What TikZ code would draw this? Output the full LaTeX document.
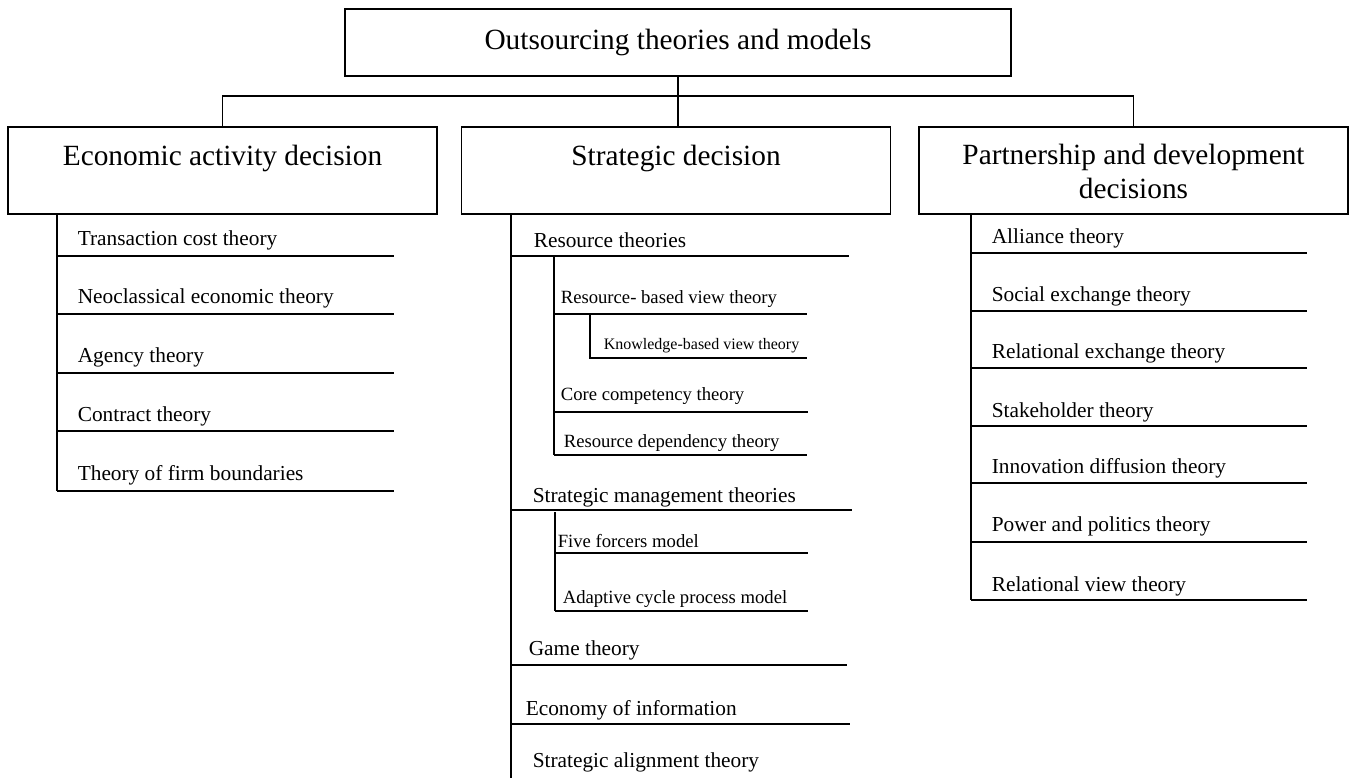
\documentclass[tikz,border=0pt]{standalone}
\usepackage{fontspec}
\setmainfont{Liberation Serif}

\tikzset{every picture/.style={line width=1.2pt}}
\tikzset{
  box/.style={draw, minimum width=321.75pt, minimum height=65.25pt, inner sep=0pt},
  head/.style={anchor=base, align=center, inner sep=0pt, font=\fontsize{22}{26}\selectfont},
  row/.style={anchor=base west, inner sep=0pt, font=\fontsize{16}{19}\selectfont},
  subrow/.style={anchor=base west, inner sep=0pt, font=\fontsize{14}{17}\selectfont},
  subsubrow/.style={anchor=base west, inner sep=0pt, font=\fontsize{12}{14}\selectfont},
}

\begin{document}
\begin{tikzpicture}[x=0.75pt,y=0.75pt,yscale=-1,xscale=1]
	\useasboundingbox (0,0) rectangle (1349,778);

	%Shape: Rectangle [top]
	\node[box, minimum width=499.5pt, minimum height=50.25pt, font=\fontsize{22}{26}\selectfont] (top) at (678,42.5) {Outsourcing theories and models};
	%Shape: Rectangle [columns]
	\node[box] (eco) at (222.5,170.5) {};
	\node[box] (strat) at (676,170.5) {};
	\node[box] (part) at (1133.5,170.5) {};
	\node[head] (ecotxt) at (222.5,165) {Economic activity decision};
	\node[head] (strattxt) at (676,165) {Strategic decision};
	\node[head, anchor=north] (parttxt) at (1133.5,143) {Partnership and development\\decisions};

	%Straight Lines [tree]
	\coordinate (bar) at (681,96);
	\draw (top.south) -- (top.south |- strat.north);
	\draw (eco.north) |- (bar) -| (part.north);

	%Straight Lines [economic activity]
	\coordinate (e5) at (57,491);
	\draw (eco.south -| e5) -- (e5);
	\draw (57,256) -- (394,256);
	\draw (57,314) -- (394,314);
	\draw (57,373) -- (394,373);
	\draw (57,431) -- (394,431);
	\draw (e5) -- (394,491);
	\node[row] (e1t) at (77,245) {Transaction cost theory};
	\node[row] (e2t) at (77,303) {Neoclassical economic theory};
	\node[row] (e3t) at (77,362) {Agency theory};
	\node[row] (e4t) at (77,421) {Contract theory};
	\node[row] (e5t) at (77,480) {Theory of firm boundaries};

	%Straight Lines [strategic]
	\coordinate (s0) at (511,778);
	\draw (strat.south -| s0) -- (s0);
	\draw (511,256) -- (849,256);
	\node[row] (s1t) at (533,247) {Resource theories};
	% resource sub-tree
	\coordinate (r0) at (554,256);
	\coordinate (r4) at (554,455);
	\draw (r0) -- (r4);
	\draw (554,314) -- (807,314);
	\draw (590,314) -- (590,358) -- (807,358);
	\draw (554,412) -- (808,412);
	\draw (r4) -- (807,455);
	\node[subrow] (r1t) at (560,303) {Resource- based view theory};
	\node[subsubrow] (r2t) at (603,349) {Knowledge-based view theory};
	\node[subrow] (r3t) at (560,400) {Core competency theory};
	\node[subrow] (r4t) at (563,447) {Resource dependency theory};

	\draw (511,510) -- (852,510);
	\node[row] (s2t) at (532,502) {Strategic management theories};
	% management sub-tree
	\coordinate (m0) at (555,512);
	\coordinate (m2) at (555,611);
	\draw (m0) -- (m2);
	\draw (555,553) -- (808,553);
	\draw (m2) -- (808,611);
	\node[subrow] (m1t) at (557,547) {Five forcers model};
	\node[subrow] (m2t) at (562,603) {Adaptive cycle process model};

	\draw (511,665) -- (847,665);
	\draw (511,724) -- (850,724);
	\node[row] (s3t) at (528,655) {Game theory};
	\node[row] (s4t) at (525,715) {Economy of information};
	\node[row] (s5t) at (532,767) {Strategic alignment theory};

	%Straight Lines [partnership]
	\coordinate (p7) at (971,600);
	\draw (part.south -| p7) -- (p7);
	\draw (971,253) -- (1307,253);
	\draw (971,311) -- (1307,311);
	\draw (971,368) -- (1307,368);
	\draw (971,426) -- (1307,426);
	\draw (971,483) -- (1307,483);
	\draw (971,542) -- (1307,542);
	\draw (p7) -- (1307,600);
	\node[row] (p1t) at (991,243) {Alliance theory};
	\node[row] (p2t) at (991,301) {Social exchange theory};
	\node[row] (p3t) at (991,358) {Relational exchange theory};
	\node[row] (p4t) at (991,417) {Stakeholder theory};
	\node[row] (p5t) at (991,473) {Innovation diffusion theory};
	\node[row] (p6t) at (991,531) {Power and politics theory};
	\node[row] (p7t) at (991,591) {Relational view theory};

\end{tikzpicture}
\end{document}
